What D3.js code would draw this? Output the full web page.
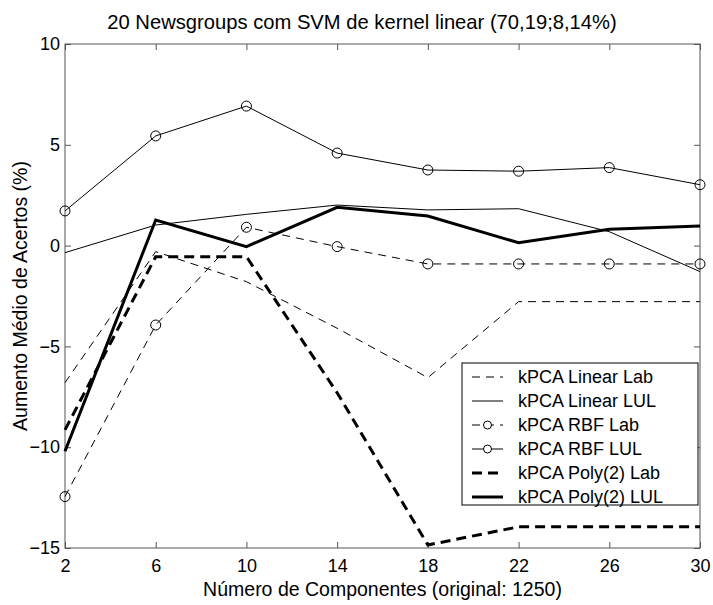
<!DOCTYPE html>
<html>
<head>
<meta charset="utf-8">
<script src="https://cdn.jsdelivr.net/npm/d3@7"></script>
<style>
  body { margin: 0; background: #fff; }
  svg { font-family: "Liberation Sans", Arial, sans-serif; }
  .lbl { font-size: 18px; fill: #000; }
  .ttl { font-size: 19.5px; fill: #000; }
</style>
</head>
<body>
<svg width="713" height="605"></svg>
<script>
// number of components on the x axis
const components = [2, 6, 10, 14, 18, 22, 26, 30];

const linearLab  = [-6.8, -0.3, -1.79, -4.1, -6.55, -2.78, -2.78, -2.78];
const linearLUL  = [-0.35, 1.02, 1.55, 2.01, 1.77, 1.83, 0.69, -1.29];
const rbfLab     = [-12.45, -3.94, 0.91, -0.05, -0.91, -0.91, -0.91, -0.91];
const rbfLUL     = [1.72, 5.44, 6.92, 4.59, 3.75, 3.69, 3.87, 3.02];
const polyLab    = [-9.14, -0.55, -0.55, -7.3, -14.85, -13.95, -13.95, -13.95];
const polyLUL    = [-10.2, 1.27, -0.05, 1.9, 1.47, 0.14, 0.81, 0.97];

const yTicks = [-15, -10, -5, 0, 5, 10];

const seriesNames = ['kPCA Linear Lab', 'kPCA Linear LUL', 'kPCA RBF Lab',
  'kPCA RBF LUL', 'kPCA Poly(2) Lab', 'kPCA Poly(2) LUL'];

const series = [
  { name: seriesNames[0], values: linearLab, width: 1, dash: '8,6', marker: false },
  { name: seriesNames[1], values: linearLUL, width: 1, dash: null, marker: false },
  { name: seriesNames[2], values: rbfLab, width: 1, dash: '8,6', marker: true },
  { name: seriesNames[3], values: rbfLUL, width: 1, dash: null, marker: true },
  { name: seriesNames[4], values: polyLab, width: 3, dash: '10,6', marker: false },
  { name: seriesNames[5], values: polyLUL, width: 3, dash: null, marker: false }
];

let svg = d3.select('svg');
const pLeft = 65, pRight = 700, pTop = 44, pBottom = 548;

let x = d3.scaleLinear().domain([2, 30]).range([pLeft, pRight]);
let y = d3.scaleLinear().domain([-15, 10]).range([pBottom, pTop]);

const axisColor = '#555';

// axes box
svg.append('rect')
  .attr('x', pLeft).attr('y', pTop)
  .attr('width', pRight - pLeft).attr('height', pBottom - pTop)
  .attr('fill', 'none').attr('stroke', axisColor).attr('stroke-width', 1);

// ticks pointing inward on all four sides
let bottomAxis = d3.axisBottom(x).tickValues(components).tickSize(-6).tickPadding(11);
let topAxis = d3.axisTop(x).tickValues(components).tickSize(-6).tickFormat('');
let leftAxis = d3.axisLeft(y).tickValues(yTicks).tickSize(-6).tickPadding(5)
  .tickFormat(d => d < 0 ? '\u2212' + Math.abs(d) : d);
let rightAxis = d3.axisRight(y).tickValues(yTicks).tickSize(-6).tickFormat('');

function styleAxis(g) {
  g.select('.domain').remove();
  g.selectAll('line').attr('stroke', axisColor);
  g.selectAll('text').attr('class', 'lbl').attr('font-size', null).attr('font-family', null);
}

svg.append('g').attr('transform', `translate(0,${pBottom})`).call(bottomAxis).call(styleAxis);
svg.append('g').attr('transform', `translate(0,${pTop})`).call(topAxis).call(styleAxis);
svg.append('g').attr('transform', `translate(${pLeft},0)`).call(leftAxis).call(styleAxis);
svg.append('g').attr('transform', `translate(${pRight},0)`).call(rightAxis).call(styleAxis);

// lines
let line = d3.line().x((d, i) => x(components[i])).y(d => y(d));

series.forEach(s => {
  svg.append('path')
    .datum(s.values)
    .attr('d', line)
    .attr('fill', 'none')
    .attr('stroke', '#000')
    .attr('stroke-width', s.width)
    .attr('stroke-dasharray', s.dash);
  if (s.marker) {
    svg.selectAll(null)
      .data(s.values)
      .enter().append('circle')
      .attr('cx', (d, i) => x(components[i]))
      .attr('cy', d => y(d))
      .attr('r', 5)
      .attr('fill', 'none')
      .attr('stroke', '#000')
      .attr('stroke-width', 1);
  }
});

// legend
let legend = svg.append('g').attr('transform', 'translate(462,363)');
legend.append('rect')
  .attr('width', 236).attr('height', 142)
  .attr('fill', '#fff').attr('stroke', '#000').attr('stroke-width', 1);

series.forEach((s, i) => {
  let ly = 14 + i * 24;
  legend.append('line')
    .attr('x1', 10).attr('x2', 41).attr('y1', ly).attr('y2', ly)
    .attr('stroke', '#000')
    .attr('stroke-width', s.width)
    .attr('stroke-dasharray', s.dash);
  if (s.marker) {
    legend.append('circle')
      .attr('cx', 25.5).attr('cy', ly).attr('r', 4)
      .attr('fill', '#fff').attr('stroke', '#000');
  }
  legend.append('text')
    .attr('class', 'lbl')
    .attr('x', 56).attr('y', ly + 6)
    .text(s.name);
});

// titles
svg.append('text')
  .attr('class', 'ttl')
  .attr('x', 362).attr('y', 29)
  .attr('text-anchor', 'middle')
  .style('font-size', '20.2px')
  .text('20 Newsgroups com SVM de kernel linear (70,19;8,14%)');

svg.append('text')
  .attr('class', 'ttl')
  .attr('x', (pLeft + pRight) / 2).attr('y', 596)
  .attr('text-anchor', 'middle')
  .text('Número de Componentes (original: 1250)');

svg.append('text')
  .attr('class', 'ttl')
  .attr('transform', `translate(27,${(pTop + pBottom) / 2}) rotate(-90)`)
  .attr('text-anchor', 'middle')
  .text('Aumento Médio de Acertos (%)');
</script>
</body>
</html>
